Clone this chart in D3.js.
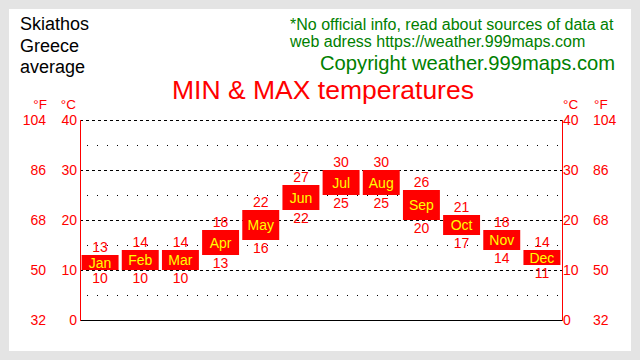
<!DOCTYPE html>
<html><head><meta charset="utf-8">
<script src="https://cdn.jsdelivr.net/npm/d3@7/dist/d3.min.js"></script>
<style>body{margin:0;background:#e4e4e4;}svg{display:block;font-family:"Liberation Sans",Arial,sans-serif;}</style>
</head><body>
<svg id="c" width="640" height="360"></svg>
<script>
const months = ["Jan","Feb","Mar","Apr","May","Jun","Jul","Aug","Sep","Oct","Nov","Dec"];
const maxTemp = [13,14,14,18,22,27,30,30,26,21,18,14];
const minTemp = [10,10,10,13,16,22,25,25,20,17,14,11];
const celsiusTicks = [0,10,20,30,40];
const fahrenheitTicks = [32,50,68,86,104];
const minorTicks = [5,15,25,35];
const infoLines = ["*No official info, read about sources of data at","web adress https://weather.999maps.com"];
const placeLines = ["Skiathos","Greece","average"];

const svg = d3.select("#c");
const RED = "#ff0000", GREEN = "#008000";
svg.append("rect").attr("x",0).attr("y",0).attr("width",640).attr("height",360).attr("fill","#e4e4e4");
svg.append("rect").attr("x",9).attr("y",9).attr("width",622).attr("height",342).attr("fill","#ffffff");

const L = 80, R = 562, T = 120, B = 320;
const x = d3.scaleBand().domain(months).range([L,R]).paddingInner(0.08).paddingOuter(0.04);
const y = d3.scaleLinear().domain([0,40]).range([B,T]);

// place text
svg.append("g").selectAll("text").data(placeLines).join("text")
  .attr("x",20).attr("y",(d,i)=>30+i*21.5).attr("font-size",18).attr("fill","#000").text(d=>d);
// info
svg.append("g").selectAll("text").data(infoLines).join("text")
  .attr("x",290).attr("y",(d,i)=>30+i*17).attr("font-size",16).attr("fill",GREEN).text(d=>d);
svg.append("text").attr("x",320).attr("y",70).attr("font-size",20.2).attr("fill",GREEN).text("Copyright weather.999maps.com");
svg.append("text").attr("x",323).attr("y",99).attr("font-size",26.5).attr("text-anchor","middle").attr("fill",RED).text("MIN & MAX temperatures");

// grid
const g = svg.append("g");
g.selectAll("line.minor").data(minorTicks).join("line").attr("class","minor")
  .attr("x1",L).attr("x2",R).attr("y1",d=>Math.round(y(d))+0.5).attr("y2",d=>Math.round(y(d))+0.5)
  .attr("stroke","#000").attr("stroke-dasharray","1,9").attr("stroke-dashoffset",3);
g.selectAll("line.major").data(celsiusTicks.filter(d=>d>0)).join("line").attr("class","major")
  .attr("x1",L).attr("x2",R).attr("y1",d=>Math.round(y(d))+0.5).attr("y2",d=>Math.round(y(d))+0.5)
  .attr("stroke","#000").attr("stroke-dasharray","3,3");
g.append("line").attr("x1",L).attr("x2",R+0.5).attr("y1",B+0.5).attr("y2",B+0.5).attr("stroke","#000");
g.append("line").attr("x1",L+0.5).attr("x2",L+0.5).attr("y1",T).attr("y2",B+1).attr("stroke",RED);
g.append("line").attr("x1",R+0.5).attr("x2",R+0.5).attr("y1",T).attr("y2",B+1).attr("stroke",RED);

// axis labels
const fs = 14;
const ax = svg.append("g").attr("fill",RED).attr("font-size",fs);
ax.selectAll("text.lc").data(celsiusTicks).join("text").attr("class","lc")
  .attr("x",77).attr("y",d=>y(d)+5).attr("text-anchor","end").text(d=>d);
ax.selectAll("text.lf").data(fahrenheitTicks).join("text").attr("class","lf")
  .attr("x",46).attr("y",(d,i)=>y(celsiusTicks[i])+5).attr("text-anchor","end").text(d=>d);
ax.selectAll("text.rc").data(celsiusTicks).join("text").attr("class","rc")
  .attr("x",563).attr("y",d=>y(d)+5).text(d=>d);
ax.selectAll("text.rf").data(fahrenheitTicks).join("text").attr("class","rf")
  .attr("x",593).attr("y",(d,i)=>y(celsiusTicks[i])+5).text(d=>d);
const hdr = svg.append("g").attr("fill",RED).attr("font-size",13.5);
hdr.append("text").attr("x",47).attr("y",108.5).attr("text-anchor","end").text("°F");
hdr.append("text").attr("x",76).attr("y",108.5).attr("text-anchor","end").text("°C");
hdr.append("text").attr("x",563).attr("y",108.5).text("°C");
hdr.append("text").attr("x",594).attr("y",108.5).text("°F");

// bars
const data = months.map((m,i)=>({m, max:maxTemp[i], min:minTemp[i]}));
const bars = svg.append("g");
bars.selectAll("rect").data(data).join("rect")
  .attr("x",d=>x(d.m)).attr("width",x.bandwidth())
  .attr("y",d=>y(d.max)).attr("height",d=>y(d.min)-y(d.max)).attr("fill",RED);
bars.selectAll("text.mon").data(data).join("text").attr("class","mon")
  .attr("x",d=>x(d.m)+x.bandwidth()/2).attr("y",d=>(y(d.max)+y(d.min))/2+5)
  .attr("text-anchor","middle").attr("font-size",14).attr("fill","#ffff00").text(d=>d.m);
bars.selectAll("text.mx").data(data).join("text").attr("class","mx")
  .attr("x",d=>x(d.m)+x.bandwidth()/2).attr("y",d=>y(d.max)-3)
  .attr("text-anchor","middle").attr("font-size",14).attr("fill",RED).text(d=>d.max);
bars.selectAll("text.mn").data(data).join("text").attr("class","mn")
  .attr("x",d=>x(d.m)+x.bandwidth()/2).attr("y",d=>y(d.min)+13)
  .attr("text-anchor","middle").attr("font-size",14).attr("fill",RED).text(d=>d.min);
</script>
</body></html>
